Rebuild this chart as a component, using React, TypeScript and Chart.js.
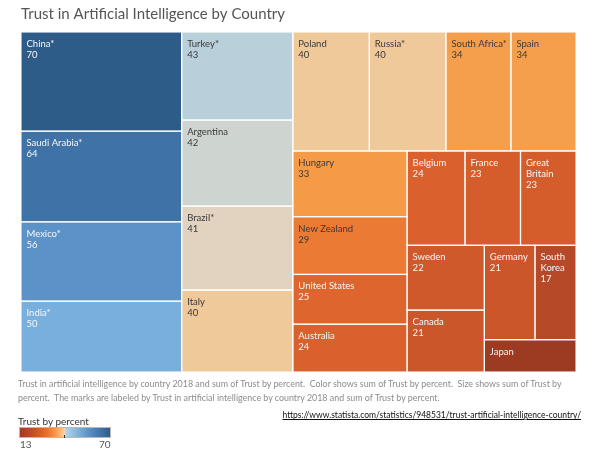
import React, { useEffect, useRef } from "react";
import { Chart, registerables } from "chart.js";

Chart.register(...registerables);

// ---------- data ----------
const countries = [
  "China*", "Saudi Arabia*", "Mexico*", "India*",
  "Turkey*", "Argentina", "Brazil*", "Italy",
  "Poland", "Russia*", "South Africa*", "Spain",
  "Hungary", "New Zealand", "United States", "Australia",
  "Belgium", "France", "Great Britain",
  "Sweden", "Canada", "Germany", "South Korea", "Japan",
];
const trust = [
  70, 64, 56, 50,
  43, 42, 41, 40,
  40, 40, 34, 34,
  33, 29, 25, 24,
  24, 23, 23,
  22, 21, 21, 17, 13,
];
const colorMin = 13;
const colorMax = 70;

const TITLE = "Trust in Artificial Intelligence by Country";
const CAPTION_1 =
  "Trust in artificial intelligence by country 2018 and sum of Trust by percent.  Color shows sum of Trust by percent.  Size shows sum of Trust by";
const CAPTION_2 =
  "percent.  The marks are labeled by Trust in artificial intelligence by country 2018 and sum of Trust by percent.";
const URL_TEXT = "https://www.statista.com/statistics/948531/trust-artificial-intelligence-country/";
const LEGEND_TITLE = "Trust by percent";

// ---------- colour scale (orange-blue diverging) ----------
const colorStops: [number, string][] = [
  [0, "#9c3b22"],
  [0.07, "#b64a28"],
  [0.16, "#d1592b"],
  [0.21, "#df652f"],
  [0.28, "#eb7a35"],
  [0.35, "#f59a47"],
  [0.37, "#f59f4e"],
  [0.474, "#efc99a"],
  [0.49, "#e3d3bf"],
  [0.508, "#cfd5d1"],
  [0.526, "#b9cfd9"],
  [0.65, "#78afdc"],
  [0.755, "#5b92c7"],
  [0.895, "#3f72a6"],
  [1, "#2d5c89"],
];

function hexToRgb(h: string) {
  const n = parseInt(h.slice(1), 16);
  return [(n >> 16) & 255, (n >> 8) & 255, n & 255];
}
function colorFor(v: number) {
  const t = Math.max(0, Math.min(1, (v - colorMin) / (colorMax - colorMin)));
  for (let i = 1; i < colorStops.length; i++) {
    const [t1, c1] = colorStops[i];
    const [t0, c0] = colorStops[i - 1];
    if (t <= t1) {
      const f = (t - t0) / (t1 - t0 || 1);
      const a = hexToRgb(c0), b = hexToRgb(c1);
      const r = a.map((x, k) => Math.round(x + (b[k] - x) * f));
      return `rgb(${r[0]},${r[1]},${r[2]})`;
    }
  }
  return colorStops[colorStops.length - 1][1];
}

// ---------- treemap layout (strip-squarify, computed from values) ----------
type Cell = { i: number; x0: number; y0: number; x1: number; y1: number };
const DOMAIN_W = 555;
const DOMAIN_H = 340;
const MIN_RATIO = 0.525;

function layoutTreemap(values: number[], W: number, H: number): Cell[] {
  const total = values.reduce((a, b) => a + b, 0);
  const scale = (W * H) / total;
  const cells: Cell[] = [];
  let x = 0, y = 0, w = W, h = H;
  let i = 0;
  while (i < values.length) {
    const vertical = w >= h; // strip along the shorter side
    const len = vertical ? h : w;
    let k = 1;
    while (i + k < values.length) {
      let s = 0;
      for (let j = i; j <= i + k; j++) s += values[j];
      const thick = (s * scale) / len;
      const firstLen = (values[i] / s) * len;
      if (firstLen / thick >= MIN_RATIO) k++;
      else break;
    }
    let s = 0;
    for (let j = i; j < i + k; j++) s += values[j];
    let thick = (s * scale) / len;
    if (i + k >= values.length) thick = vertical ? w : h;
    let pos = 0;
    for (let j = i; j < i + k; j++) {
      const l = (values[j] / s) * len;
      if (vertical) cells.push({ i: j, x0: x, x1: x + thick, y0: y + pos, y1: y + pos + l });
      else cells.push({ i: j, x0: x + pos, x1: x + pos + l, y0: y, y1: y + thick });
      pos += l;
    }
    if (vertical) { x += thick; w -= thick; } else { y += thick; h -= thick; }
    i += k;
  }
  return cells;
}

const LABEL_FONT = "9.5px Lato";

const treemapPlugin = {
  id: "treemapCells",
  afterDatasetsDraw(chart: any) {
    const { ctx, scales } = chart;
    const xs = scales.x, ys = scales.y;
    const cells = layoutTreemap(trust, DOMAIN_W, DOMAIN_H);
    const px = cells.map((c) => ({
      i: c.i,
      x0: xs.getPixelForValue(c.x0),
      x1: xs.getPixelForValue(c.x1),
      y0: ys.getPixelForValue(c.y0),
      y1: ys.getPixelForValue(c.y1),
    }));
    ctx.save();
    px.forEach((c) => {
      ctx.fillStyle = colorFor(trust[c.i]);
      ctx.fillRect(c.x0, c.y0, c.x1 - c.x0, c.y1 - c.y0);
    });
    ctx.strokeStyle = "rgba(255,255,255,0.9)";
    ctx.lineWidth = 1.2;
    px.forEach((c) => ctx.strokeRect(c.x0, c.y0, c.x1 - c.x0, c.y1 - c.y0));

    ctx.font = LABEL_FONT;
    ctx.textBaseline = "alphabetic";
    ctx.textAlign = "left";
    px.forEach((c) => {
      const v = trust[c.i];
      const w = c.x1 - c.x0, h = c.y1 - c.y0;
      const avail = w - 6;
      const words = countries[c.i].split(" ");
      const lines: string[] = [];
      let cur = "";
      words.forEach((wd) => {
        const test = cur ? cur + " " + wd : wd;
        if (cur && ctx.measureText(test).width > avail) {
          lines.push(cur);
          cur = wd;
        } else cur = test;
      });
      if (cur) lines.push(cur);
      lines.push(String(v));
      ctx.fillStyle = v <= 25 || v >= 48 ? "#f7f7f7" : "#3a3a3a";
      lines.forEach((ln, k) => {
        const off = 15 + k * 11;
        if (off + 7 <= h) ctx.fillText(ln, c.x0 + 5.5, c.y0 + off);
      });
    });
    ctx.restore();
  },
};

export default function App() {
  const ref = useRef<HTMLCanvasElement | null>(null);
  useEffect(() => {
    if (!ref.current) return;
    const chart = new Chart(ref.current, {
      type: "scatter",
      data: { datasets: [{ data: [], pointRadius: 0 }] },
      options: {
        animation: false,
        responsive: false,
        events: [],
        layout: { padding: { top: 3, left: 21, right: 24, bottom: 78 } },
        scales: {
          x: { type: "linear", min: 0, max: DOMAIN_W, display: false },
          y: { type: "linear", min: 0, max: DOMAIN_H, reverse: true, display: false },
        },
        plugins: {
          legend: { display: false },
          tooltip: { enabled: false },
          title: {
            display: true,
            text: TITLE,
            align: "start",
            color: "#555555",
            font: { family: "Lato", size: 15, weight: "normal", lineHeight: 1.2 },
            padding: { top: 2, bottom: 9 },
          },
        },
      },
      plugins: [treemapPlugin],
    });
    return () => chart.destroy();
  }, []);

  const gradient =
    "linear-gradient(to right, #9c3b22 0%, #c9552a 18%, #e8702f 30%, #f79c4f 40%, #fbc891 48%, #f3d8b8 49.6%, #b4d4ea 50.4%, #8fbee0 60%, #5b92c7 76%, #2d5c89 100%)";

  return (
    <div
      style={{
        position: "fixed",
        left: 0,
        top: 0,
        width: 600,
        height: 450,
        background: "#ffffff",
        fontFamily: "Lato, sans-serif",
      }}
    >
      <canvas ref={ref} width={600} height={450} style={{ position: "absolute", left: 0, top: 0 }} />
      <div
        style={{
          position: "absolute",
          left: 18,
          top: 377,
          fontSize: 8.9,
          lineHeight: "13.5px",
          color: "#8c8c8c",
          whiteSpace: "pre",
        }}
      >
        <div>{CAPTION_1}</div>
        <div>{CAPTION_2}</div>
      </div>
      <div
        style={{
          position: "absolute",
          right: 19,
          top: 409,
          fontSize: 8.5,
          lineHeight: "12px",
          color: "#111",
          textDecoration: "underline",
          whiteSpace: "nowrap",
        }}
      >
        {URL_TEXT}
      </div>
      <div
        style={{
          position: "absolute",
          left: 18,
          top: 414,
          fontSize: 10,
          lineHeight: "14px",
          color: "#333",
          whiteSpace: "nowrap",
        }}
      >
        {LEGEND_TITLE}
      </div>
      <div
        style={{
          position: "absolute",
          left: 19,
          top: 427,
          width: 90,
          height: 9,
          border: "1px solid #b8b8b8",
          background: gradient,
        }}
      >
        <div
          style={{
            position: "absolute",
            left: 44,
            bottom: -1,
            width: 1,
            height: 3,
            background: "#333",
          }}
        />
      </div>
      <div
        style={{
          position: "absolute",
          left: 20,
          top: 438,
          fontSize: 10,
          lineHeight: "12px",
          color: "#555",
        }}
      >
        {String(colorMin)}
      </div>
      <div
        style={{
          position: "absolute",
          left: 99,
          top: 438,
          fontSize: 10,
          lineHeight: "12px",
          color: "#555",
        }}
      >
        {String(colorMax)}
      </div>
    </div>
  );
}
